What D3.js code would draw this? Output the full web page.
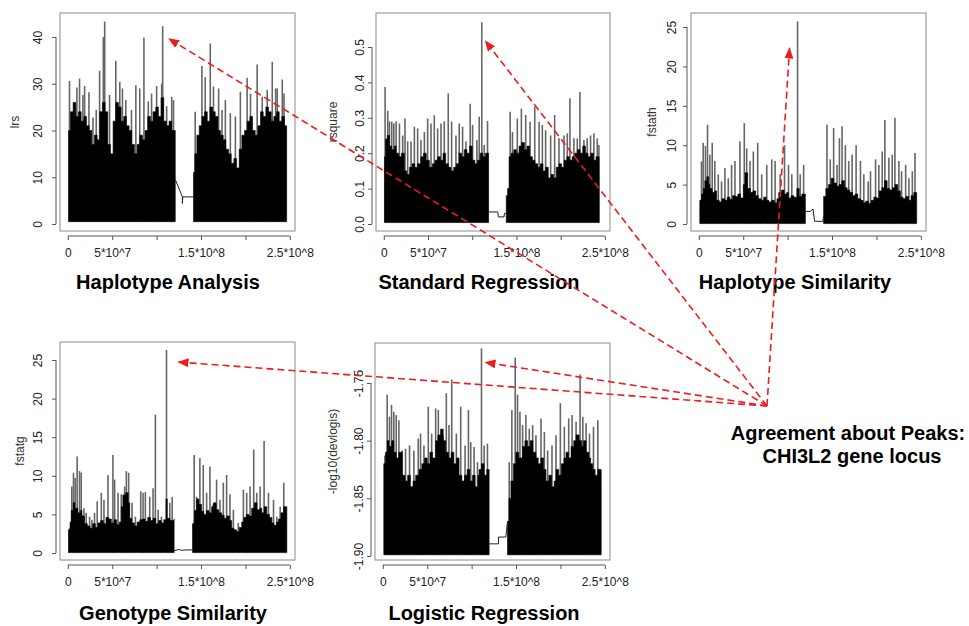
<!DOCTYPE html>
<html>
<head>
<meta charset="utf-8">
<script src="https://cdnjs.cloudflare.com/ajax/libs/d3/7.8.5/d3.min.js"></script>
<style>
    body { margin: 0; background: #fff; }
    text { font-family: "Liberation Sans", Arial, Helvetica, sans-serif; }
</style>
</head>
<body>
<svg id="chart" width="969" height="626"></svg>
<script>

// positions are in Mb along chromosome 1
const xTicks = [0, 50, 100, 150, 200, 250];
const xTickLabels = ['0', '5*10^7', '', '1.5*10^8', '', '2.5*10^8'];
const locusMb = 111;   // CHI3L2

const lrsTicks = [0, 10, 20, 30, 40];
const lrsTickLabels = ['0', '10', '20', '30', '40'];
const rsquareTicks = [0, 0.1, 0.2, 0.3, 0.4, 0.5];
const rsquareTickLabels = ['0.0', '0.1', '0.2', '0.3', '0.4', '0.5'];
const fstatTicks = [0, 5, 10, 15, 20, 25];
const fstatTickLabels = ['0', '5', '10', '15', '20', '25'];
const devlogisTicks = [-1.90, -1.85, -1.80, -1.75];
const devlogisTickLabels = ['-1.90', '-1.85', '-1.80', '-1.75'];

// Haplotype Analysis (lrs)
const lrsArmP = [[0.8,20],[3,24],[6,26],[9,23],[12,24],[15,22],[18,23],[21,21],[24,20],[27,17],[30,19],[33,18],[36,24],[39,26],[42,24],[45,17],[48,15],[51,22],[54,26],[57,25],[60,22],[63,23],[66,21],[69,20],[72,17],[75,15],[78,17],[81,19],[84,18],[87,20],[90,23],[93,22],[96,24],[99,25],[102,23],[105,27],[108,22],[111,21],[114,22],[117,20],[121,20]];
const lrsArmQ = [[141.5,11],[143,15],[145.3,19],[148,21],[151,23],[154,24],[157,22],[160,25],[163,24],[166,23],[169,20],[172,19],[175,18],[178,16],[181,15],[184,13],[187,14],[190,12],[193,16],[196,19],[199,20],[202,22],[205,23],[208,20],[211,19],[214,21],[217,24],[220,23],[223,25],[226,24],[229,22],[232,23],[235,24],[238,22],[241,23],[244,21],[246.4,18]];
const lrsGap = [[121,9.5],[129,5.8],[129,4.4],[129.5,5.8],[141.5,5.8]];
const lrsPeaks = [[1.9,30.6],[10.2,29.2],[13.2,31.1],[17,27.6],[18.9,29.5],[23.8,28.2],[28.3,22.8],[32,24.4],[35.8,32.8],[40,40],[41.5,43.3],[47,27.6],[54,34.9],[58.5,30.4],[61.5,29],[65.3,26.5],[71.7,24.4],[76.6,29.7],[81,29],[85.7,39.9],[90.6,26.2],[94.3,27.9],[100,29.5],[105.7,30],[106.8,42.3],[111.3,25.2],[117,27.2],[119,26.5],
    [143.4,24],[151,33.8],[154.7,31.4],[160.4,38.6],[164,29.4],[169.8,29],[173.6,24.4],[177.4,26.5],[183,23.7],[188.7,23],[194.3,28.3],[201.9,31.3],[205.7,27.9],[213.2,34.1],[218.9,27.2],[224.5,28.7],[230.2,34.7],[234,29],[235.8,29],[241.5,30.9],[243.4,27.9]];

// Standard Regression (rsquare)
const rsquareArmP = [[0.75,0.19],[2,0.24],[4,0.25],[6.4,0.22],[9,0.21],[12,0.22],[14,0.2],[17,0.19],[20,0.2],[23.3,0.15],[26,0.14],[29,0.16],[32,0.17],[35,0.16],[38,0.17],[42,0.19],[45,0.2],[48,0.18],[51.5,0.16],[55,0.17],[58,0.18],[61,0.19],[64,0.18],[67,0.2],[70,0.17],[73,0.16],[76,0.15],[79,0.16],[82,0.17],[85,0.2],[88,0.19],[91,0.21],[94,0.2],[97,0.22],[100,0.18],[103,0.17],[106,0.18],[109,0.2],[112,0.19],[115,0.2],[118.5,0.18]];
const rsquareArmQ = [[138.5,0.08],[140,0.1],[141.7,0.19],[144,0.2],[147,0.21],[150,0.2],[153,0.22],[156,0.23],[159,0.21],[162,0.22],[165,0.19],[168,0.18],[171,0.17],[174,0.16],[177,0.17],[180,0.15],[183,0.16],[186,0.13],[189,0.14],[192,0.13],[195,0.16],[198,0.17],[201,0.16],[204,0.18],[207,0.19],[210,0.18],[213,0.19],[216,0.2],[219,0.21],[222,0.2],[225,0.22],[228,0.2],[231,0.19],[234,0.2],[237,0.18],[240,0.19],[243.5,0.17]];
const rsquareGap = [[118.5,0.034],[129,0.034],[129.5,0.02],[136,0.02],[136.5,0.03],[138.5,0.03]];
const rsquarePeaks = [[1.5,0.387],[4.5,0.32],[6.4,0.29],[9,0.289],[11.3,0.284],[13.9,0.29],[17.7,0.284],[21.4,0.25],[24,0.298],[27,0.233],[30.8,0.233],[34.6,0.275],[38.3,0.27],[42,0.237],[45.9,0.26],[49.6,0.298],[53.4,0.284],[57.1,0.307],[60.9,0.27],[64.7,0.284],[68.4,0.29],[72.9,0.369],[76.7,0.289],[81.6,0.25],[85.3,0.284],[89.1,0.275],[92.9,0.233],[97.7,0.34],[100.4,0.28],[105.3,0.237],[107.9,0.303],[110.8,0.570],[113.5,0.223],[117.3,0.291],
    [142.9,0.317],[145.5,0.26],[151,0.298],[155.6,0.326],[160.5,0.308],[165.4,0.289],[170.7,0.331],[175.6,0.289],[179.3,0.28],[183,0.265],[188.7,0.25],[193.2,0.308],[198.1,0.242],[203.8,0.25],[207.5,0.256],[210.5,0.355],[215,0.242],[218.8,0.242],[221.8,0.373],[226.3,0.237],[230,0.242],[233.8,0.25],[237.6,0.256],[241.4,0.242],[243.2,0.223]];

// Haplotype Similarity (fstath)
const fstathArmP = [[1.1,3],[3,3.8],[5,4.5],[6.8,5.5],[9,6],[11,5],[12.4,4.5],[15,4],[18,4.2],[20,3],[23,2.8],[26,3.2],[29.4,3],[32,3.4],[35,3.1],[38,3.6],[40.7,3.5],[44,3.8],[47,3.3],[50.1,5],[52,6.5],[55,4.5],[58,4],[61,4.2],[64,3.6],[67,3.2],[70,3],[73,3.4],[76,3],[79,2.8],[82,3],[85,2.7],[88,3.2],[90,4],[93,4.3],[96,3.8],[99,4],[101,3.3],[104,3.6],[107,3.4],[110.4,4.5],[113,3.5],[116,3.8],[120,3.5]];
const fstathArmQ = [[140.5,3.5],[143,4.5],[146,5],[149,5.8],[152,5.2],[155,4.8],[158,5],[161,5.5],[164,4.6],[167,4.3],[170,4],[173,3.6],[176,3.8],[179,3.2],[182,3],[185,2.7],[188,2.9],[191,2.6],[194,3],[197,3.4],[200,3.3],[203,4.2],[206,4.6],[209,5.5],[212,4.5],[215,4.3],[218,4.6],[221,5],[224,4.2],[227,3.4],[230,3.2],[233,3.5],[236,3],[239,3.6],[242,4],[245.3,3.7]];
const fstathGap = [[120,1.6],[125.5,1.6],[128.5,1.9],[130.4,0.34],[139.8,0.34],[140.5,1]];
const fstathPeaks = [[3,7.95],[4.9,10.3],[7.5,9.9],[9.8,12.6],[12.4,8.8],[15.1,10.3],[18,8],[21.9,6.3],[25.6,5.4],[29.4,7.1],[33.2,5.8],[36.9,7.5],[40.7,8],[46.3,10.5],[51.2,12.8],[53.9,9.6],[57.6,8],[61.4,9.2],[66.3,10.3],[70.8,6.3],[76.5,7.5],[82.1,8.2],[85.9,8],[91.6,6.3],[96.5,10],[101,7.5],[104.7,6.3],[111.2,25.7],[114.2,6.3],[118,7.5],
    [144.3,12.6],[148,8.2],[151.8,12.2],[155.6,7.5],[158.3,10.9],[161.3,12.4],[165,10],[168.8,8],[172.6,8.8],[177.1,10],[182,8],[185.8,6.3],[190.7,5.4],[193.3,6.7],[199,8.2],[202.7,7.5],[206.5,9.2],[209.5,13.2],[214,8.4],[217.8,8.8],[220.8,13.5],[225.3,8],[228.3,6.7],[232.9,7.5],[236.6,5.8],[240.4,6.7],[243.4,9]];

// Genotype Similarity (fstatg)
const fstatgArmP = [[0.75,3],[2.5,4],[3.8,5.5],[6,6.5],[8,5.8],[11.3,5.2],[14,5.5],[16,4.8],[18.8,3.8],[22,3.5],[25,3.2],[28,3.8],[31,3.3],[33.9,3.9],[37,4.2],[40,3.8],[43,4.6],[46,4.4],[49,3.9],[52,4.3],[55,3.7],[58,4],[60.2,6],[62,7.5],[65,7.8],[68,6.5],[69.7,4.5],[72,3.9],[75,3.5],[78,4],[81,4.3],[84,4.4],[87,4.1],[90,4.6],[93,4.2],[96,4.5],[99,3.8],[102,4.2],[105,3.9],[108,4.3],[110.5,7],[112,4.5],[115,4.2],[119.7,4.4]];
const fstatgArmQ = [[140.4,3.8],[142.5,5.5],[145,7],[147.5,6.3],[150.6,5.4],[153,5],[156,5.5],[159,5.2],[161.9,6],[164,6.5],[167,5.6],[170,5.2],[173.2,4.9],[176,4.5],[179,4.8],[182,4.2],[184.5,3.2],[187,3],[190,2.8],[193,3.3],[195.8,4],[198,4.6],[201,5],[204,4.8],[207,5.8],[210,6.5],[213,5.6],[216,5.8],[218.4,5.2],[221,6],[224,5],[227,4.6],[229.7,3.9],[232,3.6],[235,4],[237.2,4.4],[240,5.2],[243,6],[246.6,4.2]];
const fstatgGap = [[119.7,0.3],[125,0.45],[128,0.35],[134,0.4],[140.4,0.4]];
const fstatgPeaks = [[1.9,3.2],[4.5,8.6],[6.4,10.4],[8.3,9.7],[10.5,12.5],[13.2,10.6],[15.1,10.4],[18.1,5.8],[20.7,5.2],[24.5,4.7],[27.1,4.3],[30.1,5.2],[33.1,6.7],[37.7,7.8],[40.7,6.9],[45.2,10.1],[50.8,12.7],[52.7,9.5],[56.5,7.8],[60.2,7.6],[64,8.6],[65.9,10.6],[68.5,10.4],[72.3,6.5],[76.1,4.7],[82.1,8],[84.7,7.8],[87.3,7.9],[92.2,7.3],[96,8.4],[98.6,17.9],[101.7,5.6],[105.4,4.7],[111.1,26.3],[114.8,6.5],[117.5,7.3],
    [142.3,12.7],[145,7.3],[148.7,12.3],[152.5,11.4],[156.3,7.8],[160,11.2],[163.8,6.3],[167.5,9.5],[171.3,6.9],[175.1,9.1],[178.8,10.1],[182.6,7.6],[186.4,5.6],[192,3.9],[197.7,8.2],[201.4,7.8],[205.2,8.6],[209.3,13.4],[212.7,7.8],[216.5,8.6],[221,14.5],[225.9,7.8],[231.6,6.9],[235.3,4.7],[239.1,6],[243.2,9.1]];

// Logistic Regression (-log10(devlogis))
const devlogisArmP = [[1.1,-1.82],[3,-1.81],[4.9,-1.80],[7,-1.805],[10,-1.80],[12.4,-1.81],[15,-1.815],[18,-1.81],[21.8,-1.83],[25,-1.835],[28,-1.83],[31,-1.84],[34,-1.835],[37,-1.83],[40.7,-1.825],[44,-1.82],[47,-1.815],[50,-1.82],[53,-1.81],[56,-1.815],[59.5,-1.80],[62,-1.795],[65,-1.79],[68,-1.80],[70.8,-1.81],[74,-1.815],[77,-1.81],[80,-1.82],[83,-1.815],[85.8,-1.83],[89,-1.835],[92,-1.83],[95,-1.825],[98,-1.835],[101,-1.83],[104,-1.84],[107,-1.83],[108.4,-1.825],[111,-1.82],[114,-1.83],[117,-1.825],[119.7,-1.83]];
const devlogisArmQ = [[140.4,-1.87],[142,-1.85],[144.2,-1.835],[147,-1.82],[149.8,-1.81],[153,-1.815],[157.4,-1.805],[160,-1.80],[163,-1.805],[166,-1.80],[169,-1.81],[172.4,-1.815],[175,-1.82],[178,-1.815],[181,-1.825],[183.7,-1.835],[187,-1.83],[190,-1.84],[193,-1.835],[195,-1.825],[198,-1.83],[201,-1.82],[204,-1.815],[206.3,-1.81],[209,-1.815],[212,-1.805],[215,-1.80],[217.6,-1.795],[221,-1.80],[224,-1.805],[226,-1.80],[228.9,-1.81],[232,-1.815],[234,-1.82],[236.4,-1.825],[239,-1.83],[242,-1.825],[245.9,-1.84]];
const devlogisGap = [[119.7,-1.8895],[130.3,-1.8895],[130.3,-1.8836],[138.5,-1.8836],[140.4,-1.87]];
const devlogisPeaks = [[2.3,-1.8129],[4.9,-1.7602],[7.5,-1.7792],[9.8,-1.769],[12.4,-1.7749],[15.1,-1.7778],[18.1,-1.7822],[21.9,-1.8085],[25.6,-1.807],[30.1,-1.8041],[35,-1.8085],[39.9,-1.7982],[42.5,-1.7939],[46.3,-1.8041],[51.2,-1.7705],[55,-1.7939],[59.5,-1.772],[62.5,-1.7734],[67.8,-1.7953],[71.5,-1.7588],[74.5,-1.7865],[77.6,-1.7471],[82.8,-1.7939],[87.7,-1.7705],[92.6,-1.8041],[96.4,-1.7734],[99,-1.8012],[102.8,-1.8056],[106.6,-1.8187],[111.1,-1.7199],[114.1,-1.8041],[117.8,-1.8026],
    [142.3,-1.8187],[145.3,-1.7734],[149.1,-1.728],[151.7,-1.7602],[154.4,-1.7749],[157.4,-1.7865],[161.1,-1.7778],[164.9,-1.7895],[168.7,-1.7865],[172.4,-1.7953],[178.1,-1.7807],[181.9,-1.7924],[185.6,-1.8085],[190.5,-1.8041],[195,-1.7953],[199.9,-1.7675],[204.4,-1.788],[209.3,-1.7807],[213.1,-1.7778],[217.6,-1.7836],[222.1,-1.7427],[225.2,-1.7792],[228.9,-1.785],[232.7,-1.7939],[237.2,-1.788],[242.1,-1.7822]];


const panels = [
    {title: 'Haplotype Analysis', ylab: 'lrs', armP: lrsArmP, armQ: lrsArmQ, gap: lrsGap, peaks: lrsPeaks, base: 0.5,
        ticks: lrsTicks, tickLabels: lrsTickLabels, yDomain: [-1.5, 45.13],
        box: [60, 13, 295, 231], tickOff: 22, ylabOff: 45, titleX: 168, titleY: 289, arrowOff: [5.5, 12]},
    {title: 'Standard Regression', ylab: 'rsquare', armP: rsquareArmP, armQ: rsquareArmQ, gap: rsquareGap, peaks: rsquarePeaks, base: 0.004,
        ticks: rsquareTicks, tickLabels: rsquareTickLabels, yDomain: [-0.0198, 0.596],
        box: [376, 13, 610, 231], tickOff: 16, ylabOff: 43, titleX: 479, titleY: 289, arrowOff: [3, 18]},
    {title: 'Haplotype Similarity', ylab: 'fstath', armP: fstathArmP, armQ: fstathArmQ, gap: fstathGap, peaks: fstathPeaks, base: 0.05,
        ticks: fstatTicks, tickLabels: fstatTickLabels, yDomain: [-0.89, 26.78],
        box: [691, 13, 926, 231], tickOff: 19, ylabOff: 39, titleX: 795, titleY: 289, arrowOff: [-8, 26]},
    {title: 'Genotype Similarity', ylab: 'fstatg', armP: fstatgArmP, armQ: fstatgArmQ, gap: fstatgGap, peaks: fstatgPeaks, base: 0.05,
        ticks: fstatTicks, tickLabels: fstatTickLabels, yDomain: [-0.907, 27.33],
        box: [60, 342, 295, 560], tickOff: 22, ylabOff: 40, titleX: 173, titleY: 620, arrowOff: [11, 12]},
    {title: 'Logistic Regression', ylab: '-log10(devlogis)', armP: devlogisArmP, armQ: devlogisArmQ, gap: devlogisGap, peaks: devlogisPeaks, base: -1.899,
        ticks: devlogisTicks, tickLabels: devlogisTickLabels, yDomain: [-1.9035, -1.7153],
        box: [375, 343, 610, 560], tickOff: 16, ylabOff: 42, titleX: 484, titleY: 620, arrowOff: [3, 14]}
];

const svg = d3.select('#chart');
const arrowFrom = [767, 406];
const arrowTips = [];

panels.forEach(drawPanel);
drawArrows();


function drawPanel (p) {
    const [x0, y0, x1, y1] = p.box;
    const x = d3.scaleLinear().domain([-8.8, 255.8]).range([x0, x1]);
    const y = d3.scaleLinear().domain(p.yDomain).range([y1, y0]);
    const g = svg.append('g');

    // single spikes first, the dense black mass goes over their feet
    g.selectAll('line.peak')
        .data(p.peaks)
        .join('line')
        .classed('peak', true)
        .attr('x1', d => x(d[0]))
        .attr('x2', d => x(d[0]))
        .attr('y1', y(p.base))
        .attr('y2', d => y(d[1]))
        .attr('stroke', '#666')
        .attr('stroke-width', 1.6);

    const area = d3.area()
        .curve(d3.curveStepAfter)
        .x(d => x(d[0]))
        .y0(y(p.base))
        .y1(d => y(d[1]));

    [p.armP, p.armQ].forEach(arm => {
        g.append('path')
            .attr('d', area(arm))
            .attr('fill', '#000')
            .attr('stroke', '#000')
            .attr('stroke-width', 0.6);
    });

    g.append('path')
        .datum(p.gap)
        .attr('d', d3.line().x(d => x(d[0])).y(d => y(d[1])))
        .attr('fill', 'none')
        .attr('stroke', '#222')
        .attr('stroke-width', 1);

    g.append('rect')
        .attr('x', x0)
        .attr('y', y0)
        .attr('width', x1 - x0)
        .attr('height', y1 - y0)
        .attr('fill', 'none')
        .attr('stroke', '#8a8a8a');

    const xAxis = g.append('g')
        .attr('transform', `translate(0,${y1 + 5})`)
        .call(d3.axisBottom(x).tickValues(xTicks).tickSize(4).tickSizeOuter(0)
            .tickFormat((d, i) => xTickLabels[i]));
    xAxis.select('.domain').attr('d', `M${x(xTicks[0])},0H${x(xTicks[xTicks.length - 1])}`);
    xAxis.selectAll('text').attr('y', 12);

    const yAxis = g.append('g')
        .attr('transform', `translate(${x0 - 4},0)`)
        .call(d3.axisLeft(y).tickValues(p.ticks).tickSize(4).tickSizeOuter(0)
            .tickFormat((d, i) => p.tickLabels[i]));
    yAxis.select('.domain').attr('d', `M0,${y(p.ticks[0])}V${y(p.ticks[p.ticks.length - 1])}`);
    yAxis.selectAll('text')
        .attr('transform', 'rotate(-90)')
        .attr('x', 0)
        .attr('y', -(p.tickOff - 4))
        .attr('dy', '0.35em')
        .attr('text-anchor', 'middle');

    g.selectAll('.tick text')
        .attr('font-family', '"Liberation Sans", Arial, sans-serif')
        .attr('font-size', 12)
        .attr('fill', '#222');
    g.selectAll('.domain, .tick line').attr('stroke', '#555');

    g.append('text')
        .attr('transform', `translate(${x0 - p.ylabOff},${(y0 + y1) / 2}) rotate(-90)`)
        .attr('text-anchor', 'middle')
        .attr('dy', '0.35em')
        .attr('font-size', 12)
        .attr('fill', '#333')
        .text(p.ylab);

    g.append('text')
        .attr('x', p.titleX)
        .attr('y', p.titleY)
        .attr('text-anchor', 'middle')
        .attr('font-size', 20)
        .attr('font-weight', 'bold')
        .attr('fill', '#000')
        .text(p.title);

    // arrow points at the highest spike near the CHI3L2 locus
    const top = d3.greatest(p.peaks.filter(d => Math.abs(d[0] - locusMb) < 6), d => d[1]);
    arrowTips.push([x(top[0]) + p.arrowOff[0], y(top[1]) + p.arrowOff[1]]);
}

function drawArrows () {
    svg.append('defs')
        .append('marker')
        .attr('id', 'head')
        .attr('markerUnits', 'userSpaceOnUse')
        .attr('markerWidth', 12)
        .attr('markerHeight', 10)
        .attr('refX', 11)
        .attr('refY', 4.5)
        .attr('orient', 'auto')
        .append('path')
        .attr('d', 'M0,0L11,4.5L0,9Z')
        .attr('fill', '#ee1c1c');

    svg.selectAll('line.arrow')
        .data(arrowTips)
        .join('line')
        .classed('arrow', true)
        .attr('x1', arrowFrom[0])
        .attr('y1', arrowFrom[1])
        .attr('x2', d => d[0])
        .attr('y2', d => d[1])
        .attr('stroke', '#ee1c1c')
        .attr('stroke-width', 1.6)
        .attr('stroke-dasharray', '7,4')
        .attr('marker-end', 'url(#head)');

    svg.append('text')
        .attr('x', 848)
        .attr('y', 440)
        .attr('text-anchor', 'middle')
        .attr('font-size', 20)
        .attr('font-weight', 'bold')
        .text('Agreement about Peaks:');

    svg.append('text')
        .attr('x', 852)
        .attr('y', 463)
        .attr('text-anchor', 'middle')
        .attr('font-size', 20)
        .attr('font-weight', 'bold')
        .text('CHI3L2 gene locus');
}

</script>
</body>
</html>
